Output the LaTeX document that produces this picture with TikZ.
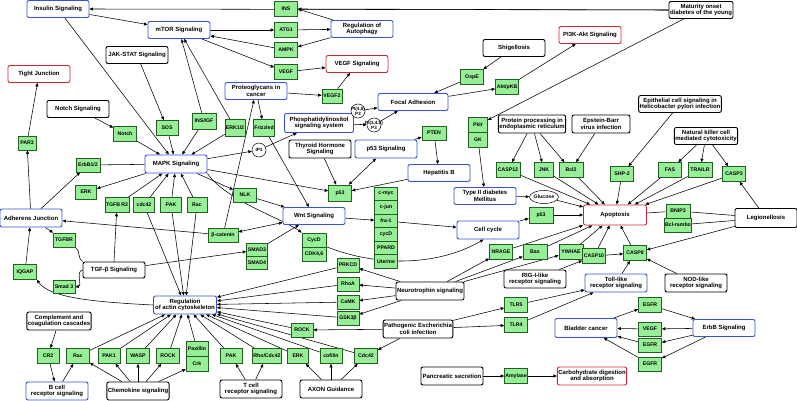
\documentclass[tikz,border=0pt]{standalone}
\usepackage{fontspec}
\setmainfont{Liberation Sans}
\usepackage{tikz}
\usetikzlibrary{arrows.meta,shapes.geometric,backgrounds,calc}
\definecolor{keggblue}{RGB}{55,85,205}
\definecolor{keggred}{RGB}{205,40,50}
\definecolor{genefill}{RGB}{150,238,150}
\definecolor{geneline}{RGB}{35,95,35}
\newcommand{\mapfont}{\fontsize{6}{6.6}\selectfont\bfseries}
\newcommand{\genefont}{\fontsize{5.2}{5.6}\selectfont\bfseries}
\newcommand{\cpdfont}{\fontsize{4.6}{4.8}\selectfont\bfseries}

\begin{document}
\begin{tikzpicture}[x=1pt, y=-1pt,
    map/.style={rectangle, rounded corners=2pt, draw, line width=0.9pt, fill=white, minimum width=62pt, minimum height=17pt, inner sep=1pt, align=center, font=\mapfont},
    bluemap/.style={map, draw=keggblue},
    redmap/.style={map, draw=keggred},
    blackmap/.style={map, draw=black},
    gene/.style={rectangle, draw=geneline, line width=0.6pt, fill=genefill, minimum width=23pt, minimum height=15pt, inner sep=0.8pt, font=\genefont},
    cpd/.style={circle, draw, fill=white, line width=0.5pt, minimum size=14pt, inner sep=-3pt, align=center, font=\cpdfont},
    arrow/.style={-{Triangle[length=3.5pt,width=3pt]}, line width=0.55pt},
    biarrow/.style={{Triangle[length=3.5pt,width=3pt]}-{Triangle[length=3.5pt,width=3pt]}, line width=0.55pt},
    link/.style={line width=0.55pt}
]
\useasboundingbox (0,0) rectangle (797,401);

% pathway maps
\node[bluemap] (ins_sig) at (58,9) {Insulin Signaling};
\node[bluemap] (mtor) at (179,30) {mTOR Signaling};
\node[bluemap] (autoph) at (362,29) {Regulation of\\Autophagy};
\node[bluemap] (proteo) at (256,91) {Proteoglycans in\\cancer};
\node[bluemap, minimum width=69pt, minimum height=19pt] (phosph) at (319,123) {Phosphatidylinositol\\signaling system};
\node[bluemap, minimum width=70pt] (focal) at (413,102) {Focal Adhesion};
\node[bluemap, minimum height=18pt] (mapk) at (176,164) {MAPK Signaling};
\node[bluemap, minimum height=18pt] (adherens) at (31,218) {Adherens Junction};
\node[bluemap] (wnt) at (314,216) {Wnt Signaling};
\node[bluemap, minimum height=18pt] (p53sig) at (386,149) {p53 Signaling};
\node[bluemap] (hepb) at (439,173) {Hepatitis B};
\node[bluemap] (t2dm) at (485,196) {Type II diabetes\\Mellitus};
\node[bluemap, minimum height=18pt] (cellcyc) at (488,230) {Cell cycle};
\node[bluemap, minimum width=63pt, minimum height=18pt] (actin) at (185,305) {Regulation\\of actin cytoskeleton};
\node[bluemap, minimum height=18pt] (bcell) at (57,391) {B cell\\receptor signaling};
\node[bluemap, minimum height=18pt] (tolllike) at (616,283) {Toll-like\\receptor signaling};
\node[bluemap, minimum height=19pt] (bladder) at (586,328) {Bladder cancer};
\node[bluemap] (erbb) at (724,328) {ErbB Signaling};

\node[redmap] (tight) at (39,74) {Tight Junction};
\node[redmap] (vegfsig) at (357,64) {VEGF Signaling};
\node[redmap] (pi3k) at (590,35) {PI3K-Akt Signaling};
\node[redmap, minimum width=63pt, minimum height=20pt] (apoptosis) at (615,215) {Apoptosis};
\node[redmap, minimum width=69pt, minimum height=18pt] (carbo) at (592,376) {Carbohydrate digestion\\and absorption};

\node[blackmap] (mody) at (701,10) {Maturity onset\\diabetes of the young};
\node[blackmap] (jakstat) at (137,55) {JAK-STAT Signaling};
\node[blackmap] (notchsig) at (78,109) {Notch Signaling};
\node[blackmap] (shigel) at (514,48) {Shigellosis};
\node[blackmap, minimum height=18pt] (thyroid) at (320,149) {Thyroid Hormone\\Signaling};
\node[blackmap, minimum width=65pt, minimum height=18pt] (protproc) at (532,124) {Protein processing in\\endoplasmic reticulum};
\node[blackmap, minimum width=58pt, minimum height=18pt] (ebv) at (601,124) {Epstein-Barr\\virus infection};
\node[blackmap, minimum width=81pt] (hpylori) at (680,104) {Epithelial cell signaling in\\Helicobacter pylori infection};
\node[blackmap] (nkcell) at (706,136) {Natural killer cell\\mediated cytotoxicity};
\node[blackmap, minimum height=19pt] (legion) at (766,218) {Legionellosis};
\node[blackmap, minimum height=16pt] (tgfb) at (114,270) {TGF-β Signaling};
\node[blackmap, minimum height=18pt] (complement) at (59,321) {Complement and\\coagulation cascades};
\node[blackmap, minimum height=18pt] (chemok) at (138,391) {Chemokine signaling};
\node[blackmap, minimum height=18pt] (tcell) at (251,389) {T cell\\receptor signaling};
\node[blackmap, minimum height=18pt] (axon) at (331,389) {AXON Guidance};
\node[blackmap, minimum width=66pt, minimum height=18pt] (neurotr) at (430,291) {Neurotrophin signaling};
\node[blackmap, minimum width=64pt, minimum height=18pt] (ecoli) at (418,329) {Pathogenic Escherichia\\coli infection};
\node[blackmap, minimum height=18pt] (rigi) at (535,279) {RIG-I-like\\receptor signaling};
\node[blackmap, minimum height=18pt] (nodlike) at (696,283) {NOD-like\\receptor signaling};
\node[blackmap, minimum height=18pt] (pancr) at (452,376) {Pancreatic secretion};

% genes
\node[gene] (ins_g) at (286,9) {INS};
\node[gene] (atg1) at (286,30) {ATG1};
\node[gene] (ampk) at (286,50) {AMPK};
\node[gene] (vegf) at (286,72) {VEGF};
\node[gene, minimum width=20pt, minimum height=14pt] (vegf2) at (332,96) {VEGF2};
\node[gene] (ospe) at (472,77) {OspE};
\node[gene] (akt) at (507,87) {Akt/pKB};
\node[gene, minimum width=22pt] (sos) at (167,128) {SOS};
\node[gene, minimum width=24pt, minimum height=16pt] (insigf) at (204,121) {INS/IGF};
\node[gene, minimum width=20pt, minimum height=17pt] (erk12) at (235,128) {ERK1/2};
\node[gene, minimum width=20pt, minimum height=17pt] (frizzled) at (264,128) {Frizzled};
\node[gene, minimum width=18pt, minimum height=14pt] (par3) at (27,143) {PAR3};
\node[gene] (notch) at (125,134) {Notch};
\node[gene, minimum width=24pt, minimum height=14pt] (erbb12) at (88,165) {ErbB1/2};
\node[gene, minimum width=21pt, minimum height=14pt] (erk) at (86,192) {ERK};
\node[gene, minimum width=21pt] (tgfbr2) at (117,205) {TGFB R2};
\node[gene, minimum width=21pt] (cdc42) at (144,205) {cdc42};
\node[gene, minimum width=21pt] (pak) at (171,205) {PAK};
\node[gene, minimum width=20pt] (rac) at (197,205) {Rac};
\node[gene, minimum height=14pt] (nlk) at (245,195) {NLK};
\node[gene, minimum height=16pt] (p53a) at (340,193) {p53};
\node[gene, minimum width=24pt, minimum height=14pt] (pten) at (434,133) {PTEN};
\node[gene, minimum width=19pt] (pklr) at (478,125) {Pklr};
\node[gene, minimum width=19pt] (gk) at (478,140) {GK};
\node[gene, minimum width=24pt] (casp12) at (508,170) {CASP12};
\node[gene, minimum width=19pt] (jnk) at (544,170) {JNK};
\node[gene, minimum width=24pt] (bcl2) at (571,170) {Bcl2};
\node[gene] (shp2) at (622,174) {SHP-2};
\node[gene] (fas) at (670,170) {FAS};
\node[gene, minimum width=24pt] (trailr) at (700,170) {TRAILR};
\node[gene] (casp3) at (734,174) {CASP3};
\node[gene, minimum width=24pt, minimum height=16pt] (p53b) at (541,215) {p53};
\node[gene, minimum width=24pt, minimum height=14pt] (bnip3) at (678,211) {BNIP3};
\node[gene, minimum width=24pt, minimum height=14pt] (bclrambo) at (678,225) {Bcl-rambo};
\node[gene] (nrage) at (501,252) {NRAGE};
\node[gene, minimum width=24pt] (bax) at (535,252) {Bax};
\node[gene, minimum width=24pt] (ywhae) at (571,252) {YWHAE};
\node[gene] (casp10) at (594,256) {CASP10};
\node[gene] (casp8) at (635,253) {CASP8};
\node[gene, minimum height=13.5pt] (cmyc) at (386,194) {c-myc};
\node[gene, minimum height=13.5pt] (cjun) at (386,207.5) {c-jun};
\node[gene, minimum height=13.5pt] (fra1) at (386,221) {fra-1};
\node[gene, minimum height=13.5pt] (cycdb) at (386,234.5) {cycD};
\node[gene, minimum height=13.5pt] (ppard) at (386,248) {PPARD};
\node[gene, minimum height=13.5pt] (uterine) at (386,261.5) {Uterine};
\node[gene, minimum width=30pt, minimum height=14pt] (bcat) at (223,235) {β-catenin};
\node[gene, minimum width=21pt, minimum height=13pt] (smad3) at (257,250) {SMAD3};
\node[gene, minimum width=21pt, minimum height=13pt] (smad4) at (257,263) {SMAD4};
\node[gene, minimum width=24pt, minimum height=14pt] (cycd) at (314,240) {CycD};
\node[gene, minimum width=24pt, minimum height=14pt] (cdk46) at (314,254) {CDK4,6};
\node[gene, minimum width=22pt, minimum height=14pt] (tgfbr) at (64,240) {TGFBR};
\node[gene] (iqgap) at (25,272) {IQGAP};
\node[gene, minimum width=22pt, minimum height=13pt] (smad3b) at (64,287) {Smad 3};
\node[gene, minimum width=22pt, minimum height=14pt] (prkcd) at (348,265) {PRKCD};
\node[gene, minimum width=22pt, minimum height=14pt] (rhoa) at (348,284) {RhoA};
\node[gene, minimum width=22pt, minimum height=14pt] (camk) at (348,302) {CaMK};
\node[gene, minimum width=22pt, minimum height=14pt] (gsk3b) at (348,318) {GSK3β};
\node[gene, minimum width=22pt, minimum height=14pt] (rock2) at (302,330) {ROCK};
\node[gene] (tlr5) at (516,305) {TLR5};
\node[gene] (tlr4) at (516,325) {TLR4};
\node[gene] (amylase) at (516,376) {Amylase};
\node[gene] (egfr1) at (650,305) {EGFR};
\node[gene, minimum height=14pt] (vegfb) at (650,329) {VEGF};
\node[gene, minimum height=14pt] (egfr2) at (650,345) {EGFR};
\node[gene, minimum height=14pt] (egfr3) at (650,364) {EGFR};
\node[gene, minimum width=22pt] (cr2) at (48,356) {CR2};
\node[gene] (rac2) at (78,356) {Rac};
\node[gene, minimum width=22pt] (pak1) at (109,356) {PAK1};
\node[gene] (wasp) at (138,356) {WASP};
\node[gene] (rock) at (168,356) {ROCK};
\node[gene, minimum width=22pt] (paxillin) at (197,349) {Paxillin};
\node[gene, minimum width=22pt] (crk) at (197,364) {Crk};
\node[gene, minimum width=22pt] (pak2) at (231,356) {PAK};
\node[gene, minimum width=22pt] (rhocdc) at (267,356) {Rho/Cdc42};
\node[gene, minimum width=21pt] (erk2) at (298,356) {ERK};
\node[gene, minimum width=22pt] (cofilin) at (331,356) {cofilin};
\node[gene] (cdc42b) at (366,356) {Cdc42};

% compounds
\node[cpd] (pip2) at (358,111) {PI(4,5)\\P2};
\node[cpd] (pip3) at (374,125) {PI(3,4,5)\\P3};
\node[cpd] (ip3) at (259,150) {IP3};
\node[ellipse, draw, fill=white, line width=0.5pt, minimum width=22pt, minimum height=13pt, inner sep=0pt, font=\genefont] (glucose) at (544,197) {Glucose};

\begin{scope}[on background layer]
\draw[arrow] (mody.west) -- (ins_sig.east);
\draw[arrow] (mody.west) -- (ins_g.east);
\draw[arrow] (autoph) -- (ins_g.east);
\draw[arrow] (mtor) -- (atg1);
\draw[arrow] (atg1) -- (autoph);
\draw[arrow] (autoph) -- (ampk);
\draw[arrow] (ampk) -- (mtor);
\draw[arrow] (mtor) -- (vegf);
\draw[arrow] (vegf) -- (vegfsig);
\draw[arrow] (vegf2) -- (vegfsig);
\draw[arrow] (ins_sig) -- (mtor);
\draw[arrow] (ins_sig) -- (mapk);
\draw[arrow] (insigf) -- (mtor);
\draw[arrow] (erk12) -- (mtor);
\draw[arrow] (jakstat) -- (sos);
\draw[arrow] (notchsig) -- (notch);
\draw[arrow] (notch) -- (mapk);
\draw[arrow] (sos) -- (mapk);
\draw[arrow] (insigf) -- (mapk);
\draw[arrow] (erk12) -- (mapk);
\draw[arrow] (proteo) -- (vegf2);
\draw[arrow] (proteo) -- (frizzled);
\draw[arrow] (bcat) -- (proteo);
\draw[arrow] (phosph) -- (pip2);
\draw[arrow] (phosph) -- (pip3);
\draw[arrow] (pip2) -- (focal);
\draw[arrow] (pip3) -- (focal);
\draw[arrow] (mapk) -- (ip3);
\draw[arrow] (ip3) -- (phosph);
\draw[arrow] (shigel) -- (ospe);
\draw[arrow] (ospe) -- (focal);
\draw[arrow] (focal) -- (akt);
\draw[arrow] (akt) -- (pi3k);
\draw[arrow] (mody) -- (pklr);
\draw[arrow] (gk) -- (t2dm);
\draw[arrow] (t2dm) -- (glucose);
\draw[arrow] (glucose) -- (apoptosis);
\draw[arrow] (protproc) -- (casp12);
\draw[arrow] (protproc) -- (jnk);
\draw[arrow] (protproc) -- (bcl2);
\draw[arrow] (ebv) -- (bcl2);
\draw[arrow] (hpylori) -- (shp2);
\draw[arrow] (nkcell) -- (fas);
\draw[arrow] (nkcell) -- (trailr);
\draw[arrow] (nkcell) -- (casp3);
\foreach \g in {casp12,jnk,bcl2,shp2,fas,trailr,casp3,p53b,nrage,bax,ywhae,casp10,casp8}
    \draw[arrow] (\g) -- (apoptosis);
\draw[link] (bnip3) -- (apoptosis);
\draw[link] (legion) -- (bnip3);
\draw[link] (legion) -- (bclrambo);
\draw[arrow] (legion) -- (casp3);
\draw[arrow] (legion) -- (casp8);
\draw[arrow] (casp10) -- (casp8);
\draw[arrow] (tolllike) -- (casp8);
\draw[arrow] (nodlike) -- (casp8);
\draw[arrow] (rigi) -- (casp10);
\draw[arrow] (cellcyc) -- (p53b);
\draw[arrow] (neurotr) -- (nrage);
\draw[arrow] (neurotr) -- (bax);
\draw[arrow] (neurotr) -- (ywhae);
\foreach \g in {prkcd,rhoa,camk,gsk3b}
    \draw[arrow] (neurotr) -- (\g);
\foreach \g in {prkcd,rhoa,camk,gsk3b,rock2,pak2,rhocdc,erk2,cofilin,cdc42b,rac2,pak1,wasp,rock,paxillin,cdc42,pak,rac}
    \draw[arrow] (\g) -- (actin);
\draw[arrow] (ecoli) -- (rock2);
\draw[arrow] (ecoli) -- (cdc42b);
\draw[arrow] (ecoli) -- (tlr5);
\draw[arrow] (ecoli) -- (tlr4);
\draw[arrow] (tlr5) -- (tolllike);
\draw[arrow] (tlr4) -- (tolllike);
\draw[arrow] (tcell) -- (pak2);
\draw[arrow] (tcell) -- (rhocdc);
\draw[arrow] (axon) -- (erk2);
\draw[arrow] (axon) -- (cofilin);
\draw[arrow] (axon) -- (cdc42b);
\foreach \g in {rac2,pak1,wasp,rock,crk}
    \draw[arrow] (chemok) -- (\g);
\draw[arrow] (complement) -- (cr2);
\draw[arrow] (cr2) -- (bcell);
\draw[arrow] (bcell) -- (rac2);
\draw[arrow] (pancr) -- (amylase);
\draw[arrow] (amylase) -- (carbo);
\draw[arrow] (bladder) -- (egfr1);
\draw[arrow] (egfr1) -- (erbb);
\draw[arrow] (erbb) -- (vegfb);
\draw[arrow] (erbb) -- (egfr2);
\draw[arrow] (erbb) -- (egfr3);
\draw[arrow] (vegfb) -- (bladder);
\draw[arrow] (egfr2) -- (bladder);
\draw[arrow] (egfr3) -- (bladder);
\draw[arrow] (actin.west) .. controls (95,302) and (50,298) .. (iqgap.south east);
\draw[arrow] (iqgap) -- (adherens);
\draw[arrow] (adherens) -- (par3);
\draw[arrow] (par3) -- (tight);
\draw[arrow] (adherens) -- (erbb12);
\draw[arrow] (adherens) -- (tgfbr);
\draw[arrow] (bcat) -- (adherens);
\draw[link] (erbb12) -- (mapk);
\draw[arrow] (mapk) -- (erk);
\draw[link] (tgfbr.south east) to[out=-30,in=150] (tgfb.north west);
\draw[arrow] (tgfb.west) to[out=190,in=10] (smad3b.east);
\draw[arrow] (tgfb.north) -- (tgfbr2);
\draw[arrow] (tgfb) -- (smad3);
\foreach \g in {tgfbr2,cdc42,pak,rac}
    \draw[arrow] (\g) -- (mapk);
\draw[arrow] (mapk) -- (nlk);
\draw[arrow] (nlk) -- (wnt);
\draw[arrow] (frizzled) -- (wnt);
\draw[biarrow] (bcat) -- (wnt);
\draw[arrow] (smad3) -- (wnt);
\draw[arrow] (wnt) -- (fra1);
\draw[arrow] (mapk) -- (p53a);
\draw[arrow] (thyroid) -- (p53a);
\draw[biarrow] (p53a) -- (p53sig);
\draw[arrow] (hepb) -- (p53a);
\draw[arrow] (p53sig) -- (pten);
\draw[arrow] (pten) -- (hepb);
\draw[arrow] (mapk.south east) .. controls (225,200) and (285,220) .. (cycd.north west);
\draw[arrow] (fra1) -- (cellcyc);
\draw[arrow] (cdk46.north east) .. controls (380,268) and (440,265) .. (cellcyc.-115);
\end{scope}
\end{tikzpicture}
\end{document}
